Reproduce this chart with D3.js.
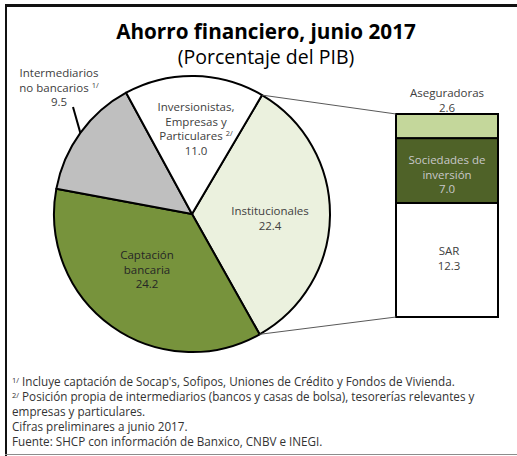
<!DOCTYPE html>
<html>
<head>
<meta charset="utf-8">
<script src="https://cdn.jsdelivr.net/npm/d3@7"></script>
<style>
  html, body { margin: 0; padding: 0; background: #fff; }
  svg { display: block; font-family: "Open Sans", Lato, sans-serif; }
</style>
</head>
<body>
<svg id="chart" width="517" height="456"></svg>
<script>
// ---- Data ----
const pieCategories = ["Institucionales", "Captación bancaria", "Intermediarios no bancarios", "Inversionistas, Empresas y Particulares"];
const pieValues = [22.4, 24.2, 9.5, 11.0];
const barCategories = ["SAR", "Sociedades de inversión", "Aseguradoras"];
const barValues = [12.3, 7.0, 2.6];
const titleText = "Ahorro financiero, junio 2017";
const subtitleText = "(Porcentaje del PIB)";
const footnotes = [
  {sup: "1/", text: " Incluye  captación de Socap's, Sofipos, Uniones de Crédito y Fondos de Vivienda."},
  {sup: "2/", text: " Posición propia de intermediarios (bancos y casas de bolsa), tesorerías relevantes y"},
  {sup: "", text: "empresas y particulares."},
  {sup: "", text: "Cifras preliminares a junio 2017."},
  {sup: "", text: "Fuente: SHCP con información de Banxico, CNBV e INEGI."}
];

// ---- Layout / style ----
const svg = d3.select("#chart");
const cx = 192, cy = 214, R = 138;
const startDeg = 30.5;
const pieColors = ["#ebf1de", "#77933c", "#bfbfbf", "#ffffff"];
const barColors = ["#ffffff", "#4f6228", "#c4d79b"];
const smallSize = 11.5;

// Frame
svg.append("line").attr("x1", 5).attr("x2", 517).attr("y1", 5.5).attr("y2", 5.5)
  .attr("stroke", "#111").attr("stroke-width", 3);
svg.append("line").attr("x1", 6).attr("x2", 6).attr("y1", 4).attr("y2", 456)
  .attr("stroke", "#111").attr("stroke-width", 2);
svg.append("line").attr("x1", 5).attr("x2", 517).attr("y1", 454.5).attr("y2", 454.5)
  .attr("stroke", "#8c8c8c").attr("stroke-width", 1);

// Title
svg.append("text").attr("x", 266).attr("y", 39).attr("text-anchor", "middle")
  .attr("font-size", 20.7).attr("font-weight", "bold").attr("fill", "#000").text(titleText);
svg.append("text").attr("x", 266).attr("y", 64).attr("text-anchor", "middle")
  .attr("font-size", 19.5).attr("fill", "#000").text(subtitleText);

// Pie
const start = startDeg * Math.PI / 180;
const pie = d3.pie().sort(null).value(d => d).startAngle(start).endAngle(start + 2 * Math.PI);
const arcs = pie(pieValues);
const arc = d3.arc().innerRadius(0).outerRadius(R);
const gPie = svg.append("g").attr("transform", `translate(${cx},${cy})`);
gPie.selectAll("path").data(arcs).join("path")
  .attr("d", arc)
  .attr("fill", (d, i) => pieColors[i])
  .attr("stroke", "#000").attr("stroke-width", 2).attr("stroke-linejoin", "round");

// Bar (stacked column)
const barX = d3.scaleBand().domain(["bar"]).range([396, 498]).padding(0);
const total = d3.sum(barValues);
const barY = d3.scaleLinear().domain([0, total]).range([317, 114]);
const stackData = [];
let acc = 0;
barValues.forEach((v, i) => { stackData.push({y0: acc, y1: acc + v, i}); acc += v; });
svg.selectAll("rect.seg").data(stackData).join("rect").attr("class", "seg")
  .attr("x", barX("bar")).attr("width", barX.bandwidth())
  .attr("y", d => barY(d.y1)).attr("height", d => barY(d.y0) - barY(d.y1))
  .attr("fill", d => barColors[d.i])
  .attr("stroke", "#000").attr("stroke-width", 2);

// Connector lines from Institucionales slice to bar
const pt = (a, r) => [cx + r * Math.sin(a), cy - r * Math.cos(a)];
const inst = arcs[0];
const p1 = pt(inst.startAngle, R), p2 = pt(inst.endAngle, R);
svg.append("line").attr("x1", p1[0]).attr("y1", p1[1]).attr("x2", barX("bar")).attr("y2", barY(total))
  .attr("stroke", "#595959").attr("stroke-width", 1);
svg.append("line").attr("x1", p2[0]).attr("y1", p2[1]).attr("x2", barX("bar")).attr("y2", barY(0))
  .attr("stroke", "#595959").attr("stroke-width", 1);

// Label helper: each line is its own <text>
function label(x, y, lines, opts = {}) {
  const g = svg.append("g").attr("font-size", opts.size || smallSize).attr("fill", opts.color || "#404040");
  lines.forEach((ln, k) => {
    const t = g.append("text").attr("x", x).attr("y", y + k * (opts.lh || 14.5)).attr("text-anchor", "middle");
    if (typeof ln === "string") { t.text(ln); }
    else {
      t.append("tspan").text(ln.text + " ");
      t.append("tspan").attr("font-size", 7.5).attr("dy", -4).text(ln.sup);
    }
  });
  return g;
}

const fmt = d3.format(".1f");

// Pie labels
label(270, 215, ["Institucionales", fmt(pieValues[0])]);
label(147, 259, ["Captación", "bancaria", fmt(pieValues[1])], {color: "#262626"});
label(59, 77, ["Intermediarios", {text: "no bancarios", sup: "1/"}, fmt(pieValues[2])]);
label(196, 111, ["Inversionistas,", "Empresas y", {text: "Particulares", sup: "2/"}, fmt(pieValues[3])]);

// Leader line for Intermediarios
const midInt = (arcs[2].startAngle + arcs[2].endAngle) / 2;
const q = pt(midInt, R);
svg.append("line").attr("x1", q[0]).attr("y1", q[1]).attr("x2", 73).attr("y2", 107)
  .attr("stroke", "#000").attr("stroke-width", 2);

// Bar labels
const bx = barX("bar") + barX.bandwidth() / 2;
label(bx, 97, ["Aseguradoras", fmt(barValues[2])]);
label(bx, 164, ["Sociedades de", "inversión", fmt(barValues[1])], {color: "#c8c8c8"});
label(bx + 2, 255, ["SAR", fmt(barValues[0])]);

// Footnotes
const fn = svg.append("g").attr("font-size", 11.7).attr("fill", "#333");
footnotes.forEach((f, k) => {
  const t = fn.append("text").attr("x", 12).attr("y", 386 + k * 15);
  if (f.sup) t.append("tspan").attr("font-size", 7.5).attr("dy", -3.5).text(f.sup);
  t.append("tspan").attr("dy", f.sup ? 3.5 : 0).text(f.text);
});
</script>
</body>
</html>
